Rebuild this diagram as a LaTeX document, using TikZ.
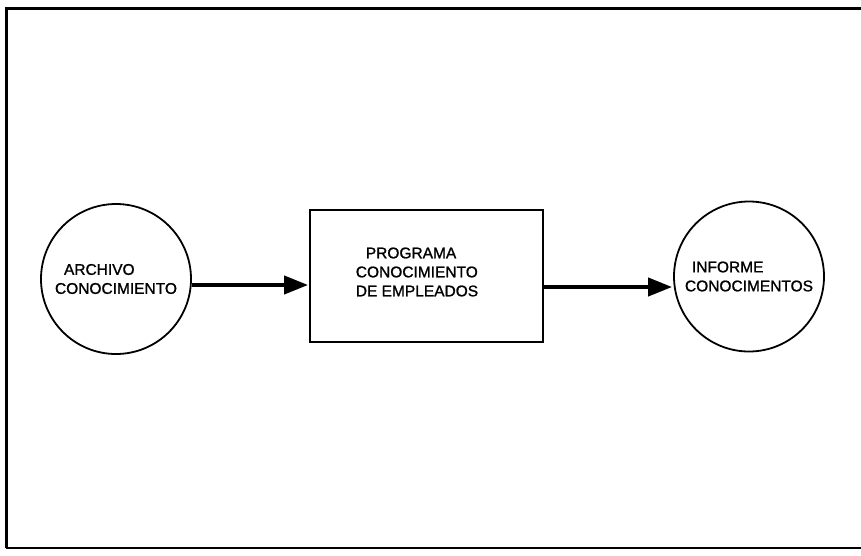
\documentclass[tikz,border=0pt]{standalone}
\usepackage{fontspec}
\setmainfont{Liberation Sans}
\newfontfamily\lblfont[FakeBold=1.2]{Liberation Sans}
\usetikzlibrary{arrows.meta}
\begin{document}
\begin{tikzpicture}[x=1pt,y=-1pt,
  lbl/.style={font=\lblfont\fontsize{15.5}{19}\selectfont, align=left, inner sep=0pt},
  store/.style={draw, line width=1.8pt, circle, minimum size=150pt, inner sep=0pt},
  proc/.style={draw, line width=1.8pt, rectangle, minimum width=233pt, minimum height=132pt, inner sep=0pt},
  flow/.style={line width=4pt, -{Triangle[length=24pt,width=18pt]}, shorten >=1pt}]
\useasboundingbox (0,0) rectangle (861,555);
\fill[white] (0,0) rectangle (861,555);
% frame
\draw[line width=3pt] (861,8) -- (6,8) -- (6,548);
\draw[line width=2pt] (6,548) -- (861,548);
% nodes
\node[store] (a) at (116,279) {};
\node[lbl] (at) at (a.center) {\hspace*{9pt}ARCHIVO\\CONOCIMIENTO};
\node[proc] (b) at (426.5,276) {};
\node[lbl] (bt) at (417,272) {\hspace*{10pt}PROGRAMA\\CONOCIMIENTO\\DE EMPLEADOS};
\node[store] (c) at (749,276.5) {};
\node[lbl] (ct) at (c.center) {\hspace*{7pt}INFORME\\CONOCIMENTOS};
% flows
\draw[flow] (a.east |- 0,285) -- (b.west |- 0,285);
\draw[flow] (b.east |- 0,287) -- (c.west |- 0,287);
\end{tikzpicture}
\end{document}
